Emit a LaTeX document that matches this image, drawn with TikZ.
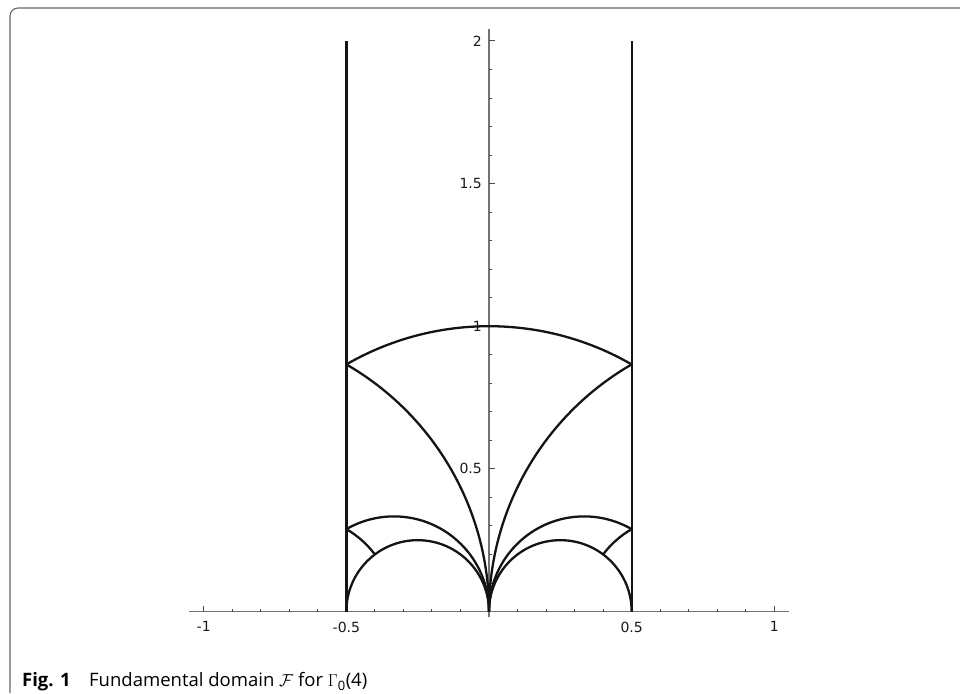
\documentclass[tikz,border=0pt]{standalone}
\usepackage{fontspec}
\newfontfamily\ticksfont{DejaVu Sans}
\newfontfamily\capfont{Open Sans}
\begin{document}
\begin{tikzpicture}[x=1pt,y=1pt,
  curve/.style={line width=2.3pt, color=black!92},
  axisline/.style={line width=1.2pt, color=black!55},
  ticklab/.style={font=\ticksfont\fontsize{14}{16}\selectfont, inner sep=0pt, text=black!90}]
\useasboundingbox (0,0) rectangle (960,693);
% frame
\draw[line width=1.1pt, black!60] (10,0) -- (10,677) arc[start angle=180,end angle=90,radius=8] -- (960,685);
\begin{scope}[shift={(489,81.5)}, x=285.3pt, y=285.3pt]
  % axes
  \draw[axisline] (-1.05,0) -- (1.05,0);
  \draw[axisline] (0,-0.02) -- (0,2.04);
  \foreach \i in {-10,...,10} {
    \pgfmathsetmacro{\xx}{\i/10}
    \draw[line width=0.9pt, black!70] (\xx,0) -- ++(0,3pt);
  }
  \foreach \xx in {-1,-0.5,0.5,1}
    \draw[line width=0.9pt, black!70] (\xx,0) -- ++(0,6pt);
  \foreach \i in {1,...,20} {
    \pgfmathsetmacro{\yy}{\i/10}
    \draw[line width=0.9pt, black!70] (0,\yy) -- ++(3pt,0);
  }
  \foreach \yy in {0.5,1,1.5,2}
    \draw[line width=0.9pt, black!70] (0,\yy) -- ++(6pt,0);
  % labels
  \node[ticklab, anchor=north] (xm1) at ([yshift=-10pt]-1,0) {-1};
  \node[ticklab, anchor=north] (xm05) at ([yshift=-10pt]-0.5,0) {-0.5};
  \node[ticklab, anchor=north] (xp05) at ([yshift=-10pt]0.5,0) {0.5};
  \node[ticklab, anchor=north] (xp1) at ([yshift=-10pt]1,0) {1};
  \node[ticklab, anchor=east] (y05) at ([xshift=-7pt]0,0.5) {0.5};
  \node[ticklab, anchor=east] (y1) at ([xshift=-7pt]0,1) {1};
  \node[ticklab, anchor=east] (y15) at ([xshift=-7pt]0,1.5) {1.5};
  \node[ticklab, anchor=east] (y2) at ([xshift=-7pt]0,2) {2};
  % vertical lines
  \draw[curve] (-0.5,0) -- (-0.5,2);
  \draw[curve] (0.5,0) -- (0.5,2);
  % unit circle arc
  \draw[curve] (0.5,0.866025) arc[start angle=60,end angle=120,radius=1];
  % circles centred at -1 and 1
  \draw[curve] (0,0) arc[start angle=0,end angle=60,radius=1];
  \draw[curve] (0,0) arc[start angle=180,end angle=120,radius=1];
  % semicircles centred at -1/4 and 1/4
  \draw[curve] (0,0) arc[start angle=0,end angle=180,radius=0.25];
  \draw[curve] (0.5,0) arc[start angle=0,end angle=180,radius=0.25];
  % circles centred at -1/3 and 1/3
  \draw[curve] (0,0) arc[start angle=0,end angle=120,radius=0.333333];
  \draw[curve] (0,0) arc[start angle=180,end angle=60,radius=0.333333];
  % short arcs centred at -2/3 and 2/3
  \draw[curve] (-0.5,0.288675) arc[start angle=60,end angle=36.87,radius=0.333333];
  \draw[curve] (0.5,0.288675) arc[start angle=120,end angle=143.13,radius=0.333333];
\end{scope}
% caption
\node[anchor=base west, inner sep=0pt, font=\capfont\fontsize{18.5}{22}\selectfont] (cap) at (22,6.3)
  {\textbf{Fig. 1}\quad Fundamental domain $\mathcal{F}$ for $\Gamma$\textsubscript{0}(4)};
\end{tikzpicture}
\end{document}
